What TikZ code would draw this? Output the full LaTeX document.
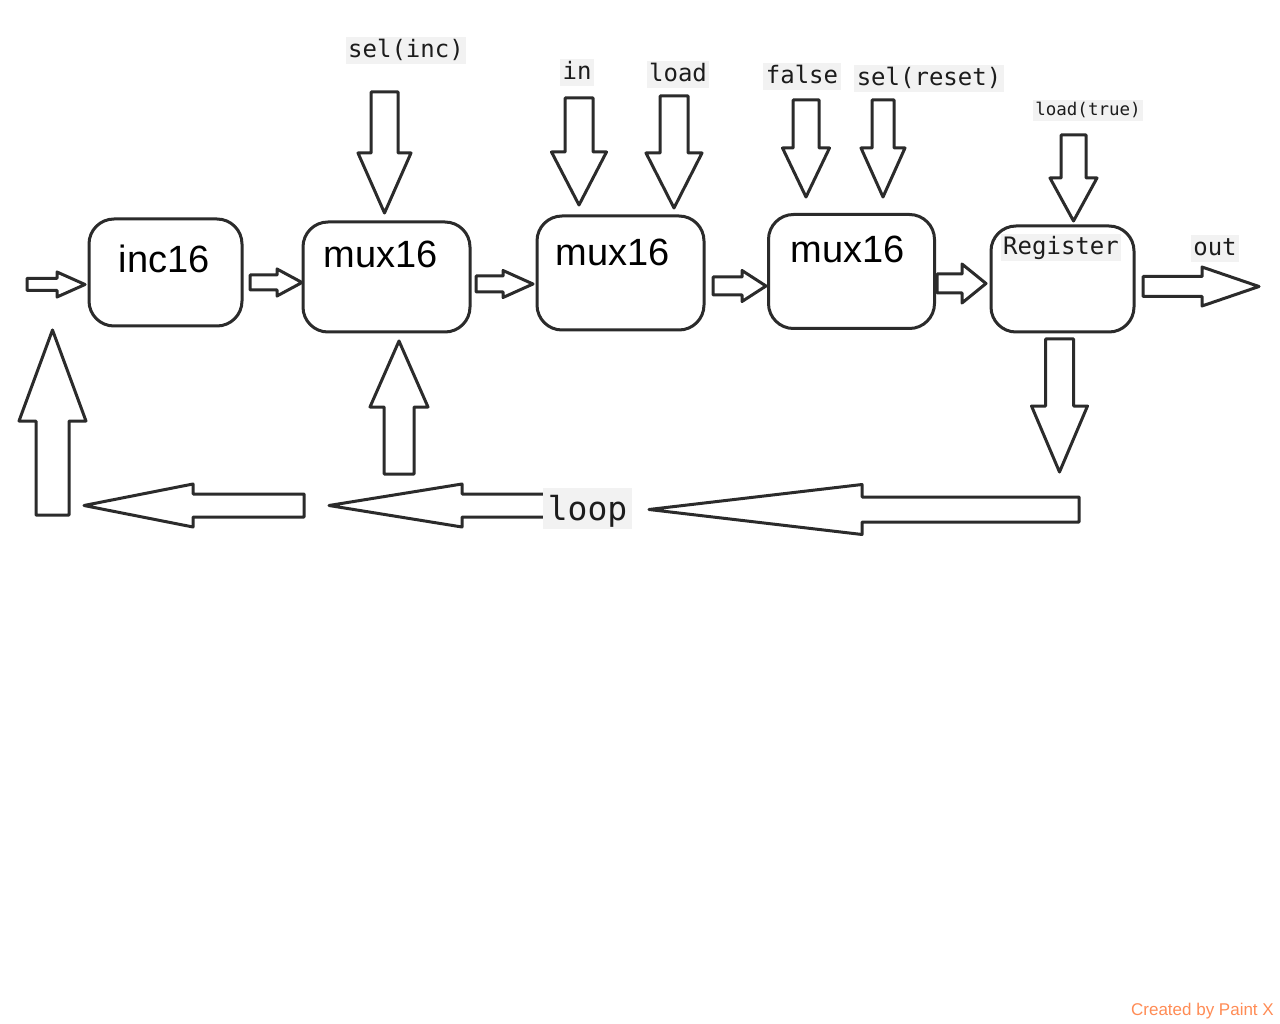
\documentclass[tikz,border=0pt]{standalone}
\usepackage{fontspec}
\setmainfont{Liberation Sans}
\newfontfamily\labelmono{DejaVu Sans Mono}
\definecolor{ink}{HTML}{2B2B2B}
\definecolor{txt}{HTML}{1C1C1C}
\definecolor{labelbg}{HTML}{F2F2F2}
\definecolor{painto}{HTML}{FF8C55}
% horizontal block arrow: tail x, head-base x, tip x, centre y, shaft half width, head half width
\newcommand{\harrowblk}[6]{\draw[blockarrow] (#1,#4-#5) -- (#2,#4-#5) -- (#2,#4-#6) -- (#3,#4) -- (#2,#4+#6) -- (#2,#4+#5) -- (#1,#4+#5) -- cycle;}
% vertical block arrow: tail y, head-base y, tip y, centre x, shaft half width, head half width
\newcommand{\varrowblk}[6]{\draw[blockarrow] (#4-#5,#1) -- (#4-#5,#2) -- (#4-#6,#2) -- (#4,#3) -- (#4+#6,#2) -- (#4+#5,#2) -- (#4+#5,#1) -- cycle;}
\begin{document}
\begin{tikzpicture}[x=1pt,y=-1pt,
  chip/.style={draw=ink,line width=3pt,rounded corners=25pt,inner sep=0pt,fill=white},
  chiptext/.style={anchor=base,text=black,inner sep=0pt,font=\fontsize{38}{40}\selectfont},
  tag/.style={anchor=base,fill=labelbg,text=txt,inner xsep=2.5pt,inner ysep=2pt,
    font=\labelmono\fontsize{24}{26}\selectfont,text height=19pt,text depth=4.5pt},
  smalltag/.style={tag,font=\labelmono\fontsize{17.5}{19}\selectfont,text height=14pt,text depth=3pt},
  bigtag/.style={tag,inner xsep=4.5pt,font=\labelmono\fontsize{33}{35}\selectfont,text height=30pt,text depth=7pt},
  blockarrow/.style={draw=ink,line width=3pt,line join=round,fill=white}]
\useasboundingbox (0,0) rectangle (1280,1024);
\fill[white] (0,0) rectangle (1280,1024);

% blocks
\node[chip,minimum width=153pt,minimum height=107pt] (inc) at (165.5,272.5) {};
\node[chip,minimum width=167pt,minimum height=110pt] (muxa) at (386.5,277) {};
\node[chip,minimum width=167pt,minimum height=114pt] (muxb) at (620.5,273) {};
\node[chip,minimum width=166pt,minimum height=114pt] (muxc) at (851.5,271.5) {};
\node[chip,minimum width=143pt,minimum height=106pt] (reg) at (1062.5,279) {};

\node[chiptext] (inct) at (164,273) {inc16};
\node[chiptext] (muxat) at (381,268) {mux16};
\node[chiptext] (muxbt) at (613,266) {mux16};
\node[chiptext] (muxct) at (848,263) {mux16};
\node[tag] (regt) at (1061,255) {Register};

% labels
\node[tag] (selinc) at (406,58) {sel(inc)};
\node[tag] (inl) at (577,80) {in};
\node[tag] (loadl) at (678,82) {load};
\node[tag] (falsel) at (802,84) {false};
\node[tag] (selreset) at (929,86) {sel(reset)};
\node[smalltag] (loadtrue) at (1088,116) {load(true)};
\node[tag] (outl) at (1215,256) {out};

% horizontal arrows along the chain
\harrowblk{27}{57}{85}{284.5}{6}{12.5}
\harrowblk{250}{277}{302}{282.5}{7.5}{13.5}
\harrowblk{476}{503}{533}{284}{8}{13.5}
\harrowblk{713}{742}{766}{286}{9}{15.5}
\harrowblk{937}{962}{986}{283.5}{9.5}{19.5}
\harrowblk{1143}{1202}{1259}{286.5}{10}{19.5}

% bottom (loop) arrows, pointing left
\harrowblk{304}{193}{84}{505.5}{11.5}{21.5}
\harrowblk{550}{462}{329}{505.5}{11.5}{21.5}
\harrowblk{1079}{862}{649}{509.5}{12.5}{25}

% down arrows
\varrowblk{92}{153}{213}{384.5}{13.5}{26.5}
\varrowblk{98}{152}{205}{579}{14}{27.5}
\varrowblk{96}{153}{208}{674}{14}{28}
\varrowblk{100}{148}{197}{806}{13}{23.5}
\varrowblk{100}{148}{197}{883}{11}{22}
\varrowblk{135}{178}{221}{1073.5}{12.5}{23.5}
\varrowblk{339}{406}{472}{1059.5}{14}{28}

% up arrows
\varrowblk{515}{421}{330}{52.5}{16.5}{33.5}
\varrowblk{474}{407}{341}{399}{15}{29}

% loop label, drawn over the arrow tail
\node[bigtag] (loopl) at (587.5,520) {loop};

\node[anchor=base east,text=painto,inner sep=0pt,font=\fontsize{17}{19}\selectfont] (credit) at (1274,1015) {Created by Paint X};
\end{tikzpicture}
\end{document}
